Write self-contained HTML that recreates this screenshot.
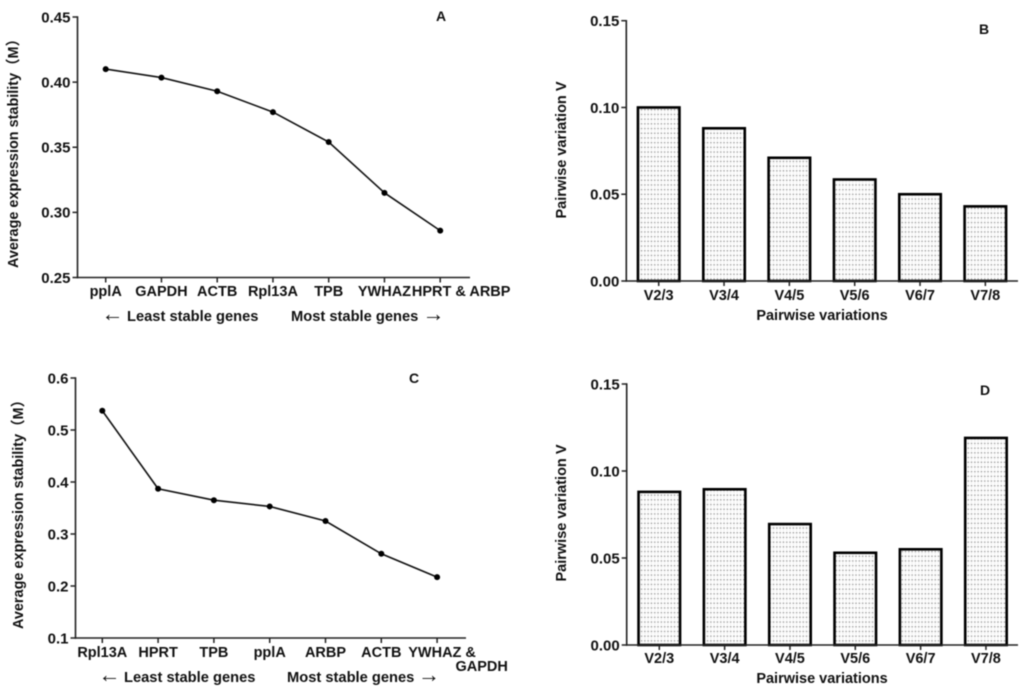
<!DOCTYPE html>
<html lang="en">
<head>
<meta charset="utf-8">
<title>Gene expression stability and pairwise variation</title>
<style>
  html, body { margin: 0; padding: 0; background: #fff; }
  body { width: 1024px; height: 690px; overflow: hidden; }
  svg { display: block; filter: blur(0.5px); }
  text { font-family: "Liberation Sans", "Noto Sans CJK SC", sans-serif; font-weight: bold; fill: #111; }
</style>
</head>
<body>
<svg id="figure" xmlns="http://www.w3.org/2000/svg" width="1024" height="690" viewBox="0 0 1024 690">
  <defs>
    <pattern id="dots" patternUnits="userSpaceOnUse" width="3.3" height="4.7">
      <rect x="0.6" y="1" width="1.5" height="1.3" fill="#9a9a9a"></rect>
      <rect x="0.6" y="3.4" width="1.5" height="1" fill="#e6e6e6"></rect>
    </pattern>
  </defs>
</svg>
<script>
const NS = 'http://www.w3.org/2000/svg';
const svg = document.getElementById('figure');

const categoriesA = ['pplA', 'GAPDH', 'ACTB', 'Rpl13A', 'TPB', 'YWHAZ', 'HPRT & ARBP'];
const valuesA = [0.41, 0.4035, 0.393, 0.377, 0.354, 0.315, 0.286];
const ticksA = [0.25, 0.30, 0.35, 0.40, 0.45];

const categoriesC = ['Rpl13A', 'HPRT', 'TPB', 'pplA', 'ARBP', 'ACTB', 'YWHAZ &'];
const valuesC = [0.537, 0.387, 0.365, 0.353, 0.325, 0.262, 0.217];
const ticksC = [0.1, 0.2, 0.3, 0.4, 0.5, 0.6];

const categoriesB = ['V2/3', 'V3/4', 'V4/5', 'V5/6', 'V6/7', 'V7/8'];
const valuesB = [0.100, 0.088, 0.071, 0.0585, 0.050, 0.043];
const ticksB = [0.00, 0.05, 0.10, 0.15];

const categoriesD = ['V2/3', 'V3/4', 'V4/5', 'V5/6', 'V6/7', 'V7/8'];
const valuesD = [0.088, 0.0895, 0.0695, 0.053, 0.055, 0.119];
const ticksD = [0.00, 0.05, 0.10, 0.15];

function make(tag, attrs, parent) {
  const el = document.createElementNS(NS, tag);
  for (const k in attrs) el.setAttribute(k, attrs[k]);
  (parent || svg).appendChild(el);
  return el;
}

function label(str, x, y, size, anchor, parent, rotate) {
  const el = make('text', { x: x, y: y, 'font-size': size, 'text-anchor': anchor || 'middle' }, parent);
  if (rotate) el.setAttribute('transform', 'rotate(-90 ' + x + ' ' + y + ')');
  el.textContent = str;
  return el;
}

function drawAxes(g, cfg, cats, ticks, xs, ys, decimals) {
  const yAxis = make('line', { x1: cfg.x0, x2: cfg.x0, y1: cfg.top - 0.7, y2: cfg.bottom + 0.7, stroke: '#222', 'stroke-width': 1.6 }, g);
  
  
  const xAxis = make('line', { x1: cfg.x0 - 0.7, x2: cfg.xEnd, y1: cfg.bottom, y2: cfg.bottom, stroke: '#222', 'stroke-width': 1.6 }, g);
  
  

  ticks.forEach(function (t) {
    const tick = make('line', { x1: cfg.x0 - 5, x2: cfg.x0, y1: ys(t), y2: ys(t), stroke: '#222', 'stroke-width': 1.5 }, g);
    
    
    const txt = label(t.toFixed(decimals), cfg.x0 - 7, ys(t) + 5.3, 15, 'end', g);
    
    
  });

  cats.forEach(function (c, i) {
    const tick = make('line', { x1: xs(i), x2: xs(i), y1: cfg.bottom, y2: cfg.bottom + 5, stroke: '#222', 'stroke-width': 1.5 }, g);
    
    
    const shift = i === cats.length - 1 && cfg.lastShift ? cfg.lastShift : 0;
    const txt = label(c, xs(i) + shift, cfg.labelY, cfg.labelSize, 'middle', g);
    
    
  });
}

function panelTitles(g, cfg) {
  const yt = label(cfg.yTitle, cfg.yTitleX, cfg.yTitleY, 14.5, 'middle', g, true);
  
  
  if (cfg.yTitleLen) {
    yt.setAttribute('textLength', cfg.yTitleLen);
    yt.setAttribute('lengthAdjust', 'spacingAndGlyphs');
  }
  const letter = label(cfg.letter, cfg.letterX, cfg.letterY, 14, 'middle', g);
  
  
}

function linePanel(cfg, cats, vals, ticks) {
  const g = make('g', {});
  
  
  const xs = function (i) { return cfg.xFirst + i * cfg.xStep; };
  const ys = function (v) { return cfg.bottom - (v - cfg.min) / (cfg.max - cfg.min) * (cfg.bottom - cfg.top); };
  drawAxes(g, cfg, cats, ticks, xs, ys, cfg.decimals);

  const series = make('polyline', {
    points: vals.map(function (v, i) { return xs(i) + ',' + ys(v); }).join(' '),
    fill: 'none', stroke: '#111', 'stroke-width': 1.6
  }, g);
  
  

  vals.forEach(function (v, i) {
    const p = make('circle', { cx: xs(i), cy: ys(v), r: 3, fill: '#000' }, g);
    
    
  });

  panelTitles(g, cfg);

  const a1 = label('\u2190', cfg.arrowLeftX, cfg.noteY, 22, 'start', g);
  
  
  const n1 = label('Least stable genes', cfg.leastX, cfg.noteY, 14.7, 'start', g);
  
  
  const n2 = label('Most stable genes', cfg.mostX, cfg.noteY, 14.7, 'start', g);
  
  
  const a2 = label('\u2192', cfg.arrowRightX, cfg.noteY, 22, 'start', g);
  
  
  return g;
}

function barPanel(cfg, cats, vals, ticks) {
  const g = make('g', {});
  
  
  const xs = function (i) { return cfg.xFirst + i * cfg.xStep; };
  const ys = function (v) { return cfg.bottom - (v - cfg.min) / (cfg.max - cfg.min) * (cfg.bottom - cfg.top); };

  vals.forEach(function (v, i) {
    const b = make('rect', {
      x: xs(i) - cfg.barWidth / 2, y: ys(v), width: cfg.barWidth, height: cfg.bottom - ys(v),
      fill: 'url(#dots)', stroke: '#000', 'stroke-width': 2.6
    }, g);
    
    
  });

  drawAxes(g, cfg, cats, ticks, xs, ys, 2);
  panelTitles(g, cfg);

  const xt = label('Pairwise variations', cfg.xTitleX, cfg.xTitleY, 14.5, 'middle', g);
  
  
  return g;
}

linePanel({
  name: 'panel-a', letter: 'A', letterX: 441, letterY: 21,
  x0: 77.5, xEnd: 470, top: 17, bottom: 277.5, min: 0.25, max: 0.45, decimals: 2,
  xFirst: 105.7, xStep: 55.75, labelY: 296, labelSize: 14.5, lastShift: 21,
  yTitle: 'Average expression stability\uFF08M\uFF09', yTitleX: 18, yTitleY: 150, yTitleLen: 236,
  arrowLeftX: 101.5, leastX: 127, mostX: 291, arrowRightX: 422.5, noteY: 321
}, categoriesA, valuesA, ticksA);

const panelC = linePanel({
  name: 'panel-c', letter: 'C', letterX: 414, letterY: 383,
  x0: 75.5, xEnd: 466, top: 378, bottom: 638, min: 0.1, max: 0.6, decimals: 1,
  xFirst: 102.3, xStep: 55.8, labelY: 657, labelSize: 14.5, lastShift: 5,
  yTitle: 'Average expression stability\uFF08M\uFF09', yTitleX: 23, yTitleY: 511, yTitleLen: 236,
  arrowLeftX: 98.5, leastX: 124, mostX: 287, arrowRightX: 418, noteY: 682
}, categoriesC, valuesC, ticksC);
const gapdhWrap = label('GAPDH', 481.7, 671, 14.5, 'middle', panelC);



barPanel({
  name: 'panel-b', letter: 'B', letterX: 984, letterY: 34,
  x0: 626.3, xEnd: 1018, top: 20.7, bottom: 281, min: 0, max: 0.15,
  xFirst: 658.7, xStep: 65.33, barWidth: 41.5, labelY: 300, labelSize: 14.5,
  yTitle: 'Pairwise variation V', yTitleX: 566, yTitleY: 150,
  xTitleX: 822, xTitleY: 320
}, categoriesB, valuesB, ticksB);

barPanel({
  name: 'panel-d', letter: 'D', letterX: 985, letterY: 395,
  x0: 626.7, xEnd: 1018, top: 384, bottom: 645, min: 0, max: 0.15,
  xFirst: 659.3, xStep: 65.33, barWidth: 41.5, labelY: 663, labelSize: 14.5,
  yTitle: 'Pairwise variation V', yTitleX: 566, yTitleY: 513,
  xTitleX: 822, xTitleY: 683
}, categoriesD, valuesD, ticksD);
</script>
</body>
</html>
